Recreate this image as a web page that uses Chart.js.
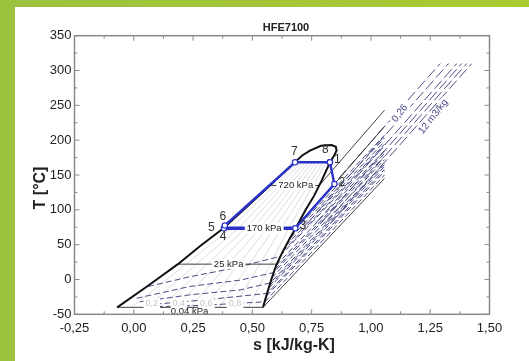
<!DOCTYPE html>
<html>
<head>
<meta charset="utf-8">
<script src="https://cdn.jsdelivr.net/npm/chart.js@4.4.1/dist/chart.umd.min.js"></script>
<style>
  html, body { margin: 0; padding: 0; }
  body { width: 529px; height: 361px; position: relative; overflow: hidden;
         background: linear-gradient(90deg, #9cc23e, #aacb31); }
  #paper { position: absolute; left: 15px; top: 7px; right: 0; bottom: 0; background: #fff; }
  #myChart { position: absolute; left: 0; top: 0; }
</style>
</head>
<body>
<div id="paper"></div>
<canvas id="myChart" width="529" height="361"></canvas>
<script>
/* ---------- data (s in kJ/kg-K, T in degC) ---------- */

// saturation dome: liquid side up, over the top, vapour side down
const domeS = [-0.07, 0.06, 0.186, 0.28, 0.378, 0.53, 0.68, 0.71, 0.743, 0.789, 0.834, 0.852, 0.855, 0.845, 0.827, 0.792, 0.76, 0.725, 0.683, 0.655, 0.628, 0.60, 0.58, 0.562, 0.545];
const domeT = [-40, -9, 22, 48, 73.5, 121, 168.5, 178, 185, 192, 193, 190.5, 185, 178, 168, 142, 120, 100, 74, 57, 40, 20, 0, -20, -40];

// ORC cycle 1-2-3-4-6-7-1
const cycleS = [0.827, 0.846, 0.681, 0.38, 0.384, 0.68, 0.827];
const cycleT = [168.2, 137, 73.5, 73.5, 77.5, 168.2, 168.2];

// state labels
const stateNames = ['1', '2', '3', '4', '5', '6', '7', '8'];
const stateLabelS = [0.858, 0.877, 0.713, 0.377, 0.327, 0.375, 0.677, 0.808];
const stateLabelT = [171.6, 139, 76.8, 61.4, 74.3, 90.2, 183.5, 185.9];

// isobars
const isobarNames = ['0,04 kPa', '25 kPa', '170 kPa', '720 kPa'];
const isobarS = [[-0.07, 0.545, 1.057], [0.186, 0.602], [0.378, 0.681, 0.846, 1.057], [0.574, 0.782, 1.057]];
const isobarT = [[-40, -40, 145], [22, 22], [73.5, 73.5, 137, 219.7], [135, 135, 243]];
const isobarLabelS = [0.235, 0.40, 0.55, 0.683];
const isobarLabelT = [-46, 22, 73.5, 135];

// isochores (two-phase part + superheated part, cut at s = 1.057)
const isochoreS = [
  [0.061, 0.237, 0.419, 0.615, 1.057],
  [0.012, 0.237, 0.448, 0.59, 1.057],
  [0.026, 0.237, 0.448, 0.575, 1.057],
  [0.054, 0.307, 0.563, 1.057],
  [0.097, 0.30, 0.553, 1.057],
  [0.559, 1.057],
  [0.568, 1.057],
  [0.572, 1.057],
  [0.581, 1.057],
  [0.594, 1.057],
  [0.60, 1.057],
  [0.628, 1.057],
  [0.64, 1.057],
  [0.662, 1.057],
  [0.678, 1.057]
];
const isochoreT = [
  [-10, 4, 16, 33, 192],
  [-27, -10, -1, 10, 177],
  [-32, -22, -15, -5, 167],
  [-36.6, -29, -20, 158],
  [-39, -37, -32, 150],
  [-24, 155],
  [-13, 162],
  [-9, 165],
  [2, 172],
  [14, 181],
  [20, 185],
  [40, 194],
  [48, 198],
  [60, 203],
  [70, 207]
];

// long isochores 0,26 ... 12 m3/kg
const longIsoS = [[0.695, 1.292], [0.73, 1.327], [0.765, 1.362], [0.786, 1.383], [0.807, 1.404], [0.828, 1.425]];
const longIsoT = [[80, 310], [80, 310], [80, 310], [80, 310], [80, 310], [80, 310]];
const volumeNames = ['0,26', '12 m3/kg'];
const volumeLabelS = [1.122, 1.263];
const volumeLabelT = [238.6, 233.7];

// quality lines x = 0.1 ... 0.9 (at T = -40, 73.5, 168.5)
const qualityT = [-40, 73.5, 168.5];
const qualityS = [
  [-0.009, 0.41, 0.695],
  [0.053, 0.441, 0.709],
  [0.115, 0.471, 0.724],
  [0.176, 0.501, 0.739],
  [0.238, 0.532, 0.754],
  [0.299, 0.562, 0.768],
  [0.361, 0.592, 0.783],
  [0.422, 0.622, 0.798],
  [0.484, 0.653, 0.812]
];
const qualityNames = ['0,2', '0,4', '0,6', '0,8'];
const qualityLabelS = [0.076, 0.19, 0.306, 0.427];
const qualityLabelT = [-34, -34, -34, -34];

/* ------------------------------ chart ------------------------------ */
const FONT = "'Liberation Sans', Arial, sans-serif";
const BLUE = '#2a33c8';
const NAVY = '#4c4c86';

function pts(s, t) {
  return s.map((v, i) => ({ x: v, y: t[i] }));
}
function line(data, color, width, dash) {
  return { data: data, showLine: true, borderColor: color, borderWidth: width,
           borderDash: dash || [], pointRadius: 0, fill: false, tension: 0 };
}

// bottom layer first, reversed later so the first drawn is at the back
let layers = [];
qualityS.forEach(s => layers.push(line(pts(s, qualityT), '#d4d4d4', 0.8)));
isochoreS.forEach((s, i) => layers.push(line(pts(s, isochoreT[i]), NAVY, 1, [6, 3])));
longIsoS.forEach((s, i) => layers.push(line(pts(s, longIsoT[i]), NAVY, 1, [11, 4])));
isobarS.forEach((s, i) => layers.push(line(pts(s, isobarT[i]), '#2a2a2a', 0.9)));
layers.push(line(pts(domeS, domeT), '#111', 2));
let cyc = line(pts(cycleS, cycleT), BLUE, 2.4);
cyc.pointRadius = 2.7;
cyc.pointBackgroundColor = '#fff';
cyc.pointBorderColor = BLUE;
cyc.pointBorderWidth = 1.2;
cyc.segment = { borderWidth: c => (c.p0DataIndex === 2 ? 3.6 : 2.4) };
layers.push(cyc);

function labelAt(ctx, text, px, py, bg) {
  const w = ctx.measureText(text).width;
  if (bg) {
    ctx.fillStyle = '#fff';
    ctx.fillRect(px - w / 2 - 2, py - 5, w + 4, 10);
  }
}

const decorations = {
  id: 'decorations',
  afterDatasetsDraw(chart) {
    const { ctx, scales: { x, y } } = chart;
    ctx.save();
    ctx.textAlign = 'center';
    ctx.textBaseline = 'middle';

    // quality labels
    ctx.font = '9px ' + FONT;
    qualityNames.forEach((t, i) => {
      const px = x.getPixelForValue(qualityLabelS[i]), py = y.getPixelForValue(qualityLabelT[i]);
      labelAt(ctx, t, px, py, true);
      ctx.fillStyle = '#c4c4c4';
      ctx.fillText(t, px, py);
    });

    // isobar labels
    ctx.font = '9.5px ' + FONT;
    isobarNames.forEach((t, i) => {
      const px = x.getPixelForValue(isobarLabelS[i]), py = y.getPixelForValue(isobarLabelT[i]);
      labelAt(ctx, t, px, py, i > 0);
      ctx.fillStyle = '#222';
      ctx.fillText(t, px, py);
    });

    // specific volume labels along the long isochores
    ctx.font = '10px ' + FONT;
    volumeNames.forEach((t, i) => {
      const px = x.getPixelForValue(volumeLabelS[i]), py = y.getPixelForValue(volumeLabelT[i]);
      ctx.save();
      ctx.translate(px, py);
      ctx.rotate(-52 * Math.PI / 180);
      labelAt(ctx, t, 0, 0, true);
      ctx.fillStyle = '#4a4a8a';
      ctx.fillText(t, 0, 0);
      ctx.restore();
    });

    // state numbers
    ctx.font = '12px ' + FONT;
    ctx.fillStyle = '#333';
    stateNames.forEach((t, i) => {
      ctx.fillText(t, x.getPixelForValue(stateLabelS[i]), y.getPixelForValue(stateLabelT[i]));
    });
    ctx.restore();
  },
  afterDraw(chart) {
    const { ctx, chartArea: a, scales: { x, y } } = chart;
    ctx.save();
    // frame
    ctx.strokeStyle = '#8a8a8a';
    ctx.lineWidth = 1.5;
    ctx.strokeRect(a.left, a.top, a.right - a.left, a.bottom - a.top);
    // inward ticks, major + minor, all four sides
    ctx.lineWidth = 1;
    ctx.beginPath();
    for (let i = 0; i <= 14; i++) {
      const px = x.getPixelForValue(-0.25 + i * 0.125);
      const len = i % 2 === 0 ? 5 : 3;
      ctx.moveTo(px, a.bottom); ctx.lineTo(px, a.bottom - len);
      ctx.moveTo(px, a.top); ctx.lineTo(px, a.top + len);
    }
    for (let i = 0; i <= 16; i++) {
      const py = y.getPixelForValue(-50 + i * 25);
      const len = i % 2 === 0 ? 5 : 3;
      ctx.moveTo(a.left, py); ctx.lineTo(a.left + len, py);
      ctx.moveTo(a.right, py); ctx.lineTo(a.right - len, py);
    }
    ctx.stroke();

    // titles
    ctx.fillStyle = '#222';
    ctx.textAlign = 'center';
    ctx.textBaseline = 'middle';
    ctx.font = 'bold 11px ' + FONT;
    ctx.fillText('HFE7100', 286, 28);
    ctx.font = 'bold 16px ' + FONT;
    ctx.fillText('s [kJ/kg-K]', 294, 346);
    ctx.translate(40.5, 188);
    ctx.rotate(-Math.PI / 2);
    ctx.fillText('T [°C]', 0, 0);
    ctx.restore();
  }
};

const config = {
  type: 'scatter',
  data: { datasets: layers.slice().reverse() },
  options: {
    responsive: false,
    animation: false,
    devicePixelRatio: 1,
    layout: { padding: { left: 15, top: 35.7, right: 39.5, bottom: 0 } },
    plugins: { legend: { display: false }, tooltip: { enabled: false }, title: { display: false } },
    scales: {
      x: {
        type: 'linear', min: -0.25, max: 1.5,
        grid: { display: false, drawTicks: false },
        border: { display: false },
        ticks: { stepSize: 0.25, padding: 6, color: '#222', font: { family: FONT, size: 13 },
                 callback: v => v.toFixed(2).replace('.', ',') },
        afterFit: s => { s.height = 46.7; }
      },
      y: {
        type: 'linear', min: -50, max: 350,
        grid: { display: false, drawTicks: false },
        border: { display: false },
        ticks: { stepSize: 50, padding: 3, color: '#222', font: { family: FONT, size: 13 },
                 callback: v => String(v) },
        afterFit: s => { s.width = 59.5; }
      }
    }
  },
  plugins: [decorations]
};

const myChart = new Chart(document.getElementById('myChart'), config);
</script>
</body>
</html>
